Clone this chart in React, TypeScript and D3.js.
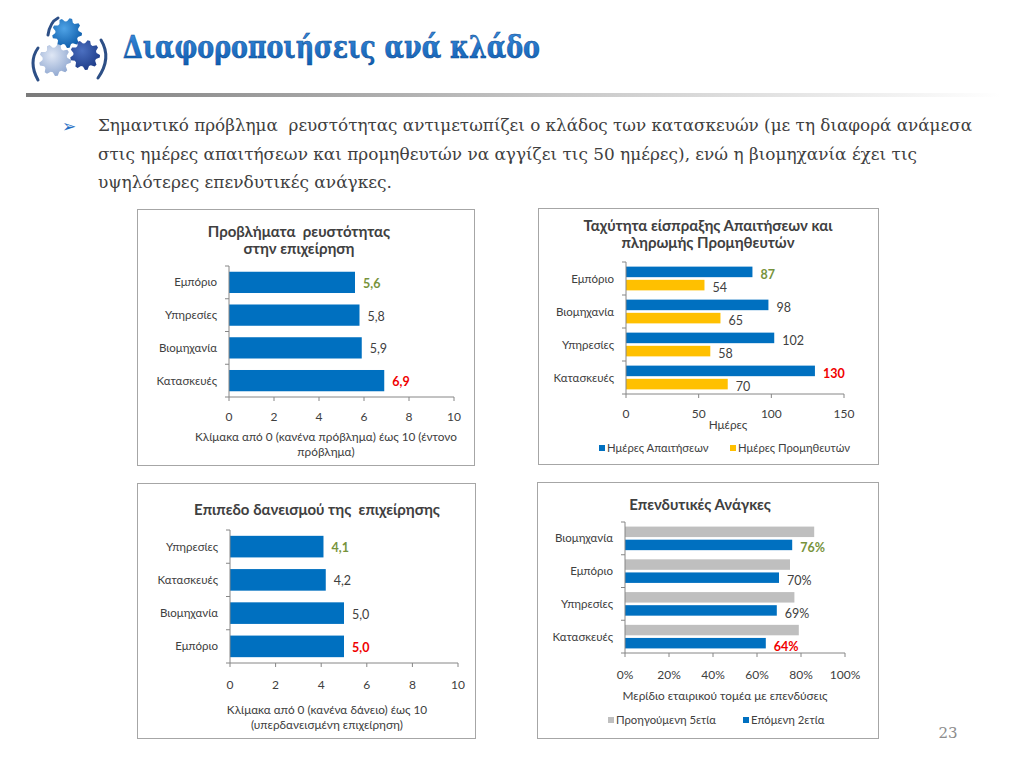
import * as React from 'react';
import * as d3 from 'd3';

// --- data ---
const liquidityCats = ['Εμπόριο', 'Υπηρεσίες', 'Βιομηχανία', 'Κατασκευές'];
const liquidityVals = [5.6, 5.8, 5.9, 6.9];

const daysCats = ['Εμπόριο', 'Βιομηχανία', 'Υπηρεσίες', 'Κατασκευές'];
const daysReceivables = [87, 98, 102, 130];
const daysPayables = [54, 65, 58, 70];

const loanCats = ['Υπηρεσίες', 'Κατασκευές', 'Βιομηχανία', 'Εμπόριο'];
const loanVals = [4.1, 4.2, 5.0, 5.0];

const investCats = ['Βιομηχανία', 'Εμπόριο', 'Υπηρεσίες', 'Κατασκευές'];
const investPrev5y = [0.86, 0.75, 0.77, 0.79];
const investNext2y = [0.76, 0.70, 0.69, 0.64];

const scaleTicks = [0, 2, 4, 6, 8, 10];
const dayTicks = [0, 50, 100, 150];
const pctTicks = [0, 0.2, 0.4, 0.6, 0.8, 1];

const bulletLines = [
  'Σημαντικό πρόβλημα  ρευστότητας αντιμετωπίζει ο κλάδος των κατασκευών (με τη διαφορά ανάμεσα',
  'στις ημέρες απαιτήσεων και προμηθευτών να αγγίζει τις 50 ημέρες), ενώ η βιομηχανία έχει τις',
  'υψηλότερες επενδυτικές ανάγκες.',
];

const BLUE = '#0070C0';
const YELLOW = '#FFC000';
const GRAY = '#BFBFBF';
const GREEN = '#77933C';
const RED = '#F00000';
const TEXT = '#404040';
const AXIS = '#868686';
const FONT = 'Lato, "Noto Sans", sans-serif';

const commaFmt = (v: number) => d3.format('.1f')(v).replace('.', ',');
const intFmt = d3.format('d');
const pctFmt = d3.format('.0%');

type SeriesDef = {
  values: number[];
  color: string;
  labels: boolean;
  highlight: boolean;
  name?: string;
};

type ChartProps = {
  box: { x: number; y: number; w: number; h: number };
  plot: { x0: number; x1: number; y0: number; y1: number };
  cats: string[];
  series: SeriesDef[];
  domain: [number, number];
  ticks: number[];
  tickFmt: (v: number) => string;
  valFmt: (v: number) => string;
  title: string[];
  titleX: number;
  titleY: number;
  tickY: number;
  axisLabel: string[];
  axisLabelX: number;
  axisLabelY: number;
  barFrac: number;
  legend?: { y: number; xs: number[] };
};

function HBarChart(p: ChartProps) {
  const x = d3.scaleLinear().domain(p.domain).range([p.plot.x0, p.plot.x1]);
  const y = d3.scaleBand<string>().domain(p.cats).range([p.plot.y0, p.plot.y1]).paddingInner(0);
  const inner = d3
    .scaleBand<number>()
    .domain(p.series.map((_, i) => i))
    .range([0, y.bandwidth()])
    .paddingInner(p.series.length > 1 ? 0.2 : 0)
    .paddingOuter(p.series.length > 1 ? 0.35 : (1 - p.barFrac) / 2);
  const n = p.cats.length;
  const boundaries = d3.range(n + 1).map((i) => p.plot.y0 + i * y.step());

  return (
    <g>
      <rect x={p.box.x} y={p.box.y} width={p.box.w} height={p.box.h} fill="#fff" stroke="#a6a6a6" strokeWidth={1} />
      {p.title.map((t, i) => (
        <text key={i} x={p.titleX} y={p.titleY + i * 17} textAnchor="middle" dy="0.35em"
          fontSize={15} fontWeight={700} fill={TEXT} style={{ whiteSpace: 'pre' }}>{t}</text>
      ))}
      {p.series.map((s, si) =>
        s.values.map((v, ci) => {
          const by = (y(p.cats[ci]) as number) + (inner(si) as number);
          const bh = inner.bandwidth();
          return (
            <rect key={`${si}-${ci}`} x={x(0)} y={by} width={x(v) - x(0)} height={bh} fill={s.color} />
          );
        })
      )}
      {p.series.map((s, si) =>
        s.labels
          ? s.values.map((v, ci) => {
              const by = (y(p.cats[ci]) as number) + (inner(si) as number) + inner.bandwidth() / 2;
              const hi = s.highlight && (ci === 0 || ci === n - 1);
              const col = !hi ? TEXT : ci === 0 ? GREEN : RED;
              return (
                <text key={`l${si}-${ci}`} x={x(v) + 8} y={by + (p.series.length > 1 ? 3 : 1)} dy="0.35em"
                  fontSize={12.5} fontWeight={hi ? 700 : 400} fill={col}>{p.valFmt(v)}</text>
              );
            })
          : null
      )}
      {/* y axis */}
      <line x1={p.plot.x0} x2={p.plot.x0} y1={p.plot.y0} y2={p.plot.y1} stroke={AXIS} />
      {boundaries.map((b, i) => (
        <line key={`yt${i}`} x1={p.plot.x0 - 4} x2={p.plot.x0} y1={b} y2={b} stroke={AXIS} />
      ))}
      {p.cats.map((c) => (
        <text key={c} x={p.plot.x0 - 12} y={(y(c) as number) + y.bandwidth() / 2} dy="0.35em" textAnchor="end"
          fontSize={11.5} fill={TEXT}>{c}</text>
      ))}
      {/* x axis */}
      <line x1={p.plot.x0} x2={p.plot.x1} y1={p.plot.y1} y2={p.plot.y1} stroke={AXIS} />
      {p.ticks.map((t) => (
        <g key={`xt${t}`}>
          <line x1={x(t)} x2={x(t)} y1={p.plot.y1} y2={p.plot.y1 + 4} stroke={AXIS} />
          <text x={x(t)} y={p.tickY} dy="0.35em" textAnchor="middle" fontSize={12} fill={TEXT}>{p.tickFmt(t)}</text>
        </g>
      ))}
      {p.axisLabel.map((t, i) => (
        <text key={`al${i}`} x={p.axisLabelX} y={p.axisLabelY + i * 15} dy="0.35em" textAnchor="middle"
          fontSize={11.8} fill={TEXT}>{t}</text>
      ))}
      {p.legend
        ? p.series.map((s, si) => (
            <g key={`lg${si}`}>
              <rect x={p.legend!.xs[si]} y={p.legend!.y - 3} width={6} height={6} fill={s.color} />
              <text x={p.legend!.xs[si] + 8} y={p.legend!.y} dy="0.35em" fontSize={11.3} fill={TEXT}>{s.name}</text>
            </g>
          ))
        : null}
    </g>
  );
}

function gearPath(cx: number, cy: number, r: number, teeth: number) {
  const pts: [number, number][] = [];
  const steps = teeth * 4;
  for (let i = 0; i < steps; i++) {
    const a = (i / steps) * Math.PI * 2;
    const rr = i % 4 < 2 ? r : r * 0.78;
    pts.push([cx + Math.cos(a) * rr, cy + Math.sin(a) * rr]);
  }
  return d3.line().curve(d3.curveLinearClosed)(pts) as string;
}

function Logo() {
  return (
    <g>
      <defs>
        <radialGradient id="gBlue" cx="40%" cy="35%" r="70%">
          <stop offset="0%" stopColor="#4fa3e6" />
          <stop offset="100%" stopColor="#0b5aa8" />
        </radialGradient>
        <radialGradient id="gLight" cx="40%" cy="35%" r="70%">
          <stop offset="0%" stopColor="#dfe7f5" />
          <stop offset="100%" stopColor="#8ea6cf" />
        </radialGradient>
        <radialGradient id="gDark" cx="40%" cy="35%" r="70%">
          <stop offset="0%" stopColor="#4b6fc0" />
          <stop offset="100%" stopColor="#1c3a87" />
        </radialGradient>
      </defs>
      <path d="M38,48 Q28,62 38,80" fill="none" stroke="#2d4f86" strokeWidth={3} strokeLinecap="round" />
      <path d="M48,35 Q50,22 58,18" fill="none" stroke="#2d4f86" strokeWidth={3} strokeLinecap="round" />
      <path d="M101,40 Q112,58 98,78" fill="none" stroke="#2d4f86" strokeWidth={3} strokeLinecap="round" />
      <path d={gearPath(67, 33, 15, 9)} fill="url(#gBlue)" />
      <path d={gearPath(55, 60, 16, 9)} fill="url(#gLight)" />
      <path d={gearPath(85, 55, 15, 9)} fill="url(#gDark)" />
    </g>
  );
}

export default function App() {
  return (
    <div style={{ position: 'absolute', left: 0, top: 0 }}>
      <svg width={1024} height={768} style={{ display: 'block', fontFamily: FONT }}>
        <defs>
          <linearGradient id="sep" x1="0" x2="1" y1="0" y2="0">
            <stop offset="0%" stopColor="#7a7a7a" />
            <stop offset="55%" stopColor="#c8c8c8" />
            <stop offset="100%" stopColor="#ffffff" />
          </linearGradient>
          <linearGradient id="titleFill" x1="0" x2="0" y1="0" y2="1">
            <stop offset="0%" stopColor="#3d8fe0" />
            <stop offset="100%" stopColor="#0d5cb0" />
          </linearGradient>
        </defs>
        <rect width={1024} height={768} fill="#fff" />
        <Logo />
        <text x={123} y={58} fontFamily='"DejaVu Serif", serif' fontWeight={700} fontSize={32}
          textLength={417} lengthAdjust="spacingAndGlyphs" fill="url(#titleFill)" stroke="#0b4a94" strokeWidth={0.6}>
          Διαφοροποιήσεις ανά κλάδο
        </text>
        <rect x={26} y={93} width={975} height={4} fill="url(#sep)" />

        <text x={62} y={132} fontSize={17} fill="#1f6fc4" fontFamily='"DejaVu Sans", sans-serif'>➢</text>
        {bulletLines.map((t, i) => (
          <text key={i} x={98} y={131 + i * 28.5} fontSize={17.5} fill="#404040"
            fontFamily='"DejaVu Serif Condensed", "DejaVu Serif", serif'
            textLength={[874, 819, 294][i]} lengthAdjust="spacingAndGlyphs" style={{ whiteSpace: 'pre' }}>{t}</text>
        ))}

        <HBarChart
          box={{ x: 137.5, y: 209.5, w: 337, h: 256 }}
          plot={{ x0: 229, x1: 454, y0: 266, y1: 397 }}
          cats={liquidityCats}
          series={[{ values: liquidityVals, color: BLUE, labels: true, highlight: true }]}
          domain={[0, 10]}
          ticks={scaleTicks}
          tickFmt={intFmt}
          valFmt={commaFmt}
          title={['Προβλήματα  ρευστότητας', 'στην επιχείρηση']}
          titleX={299}
          titleY={232}
          tickY={417}
          axisLabel={['Κλίμακα από 0 (κανένα πρόβλημα) έως 10 (έντονο', 'πρόβλημα)']}
          axisLabelX={326}
          axisLabelY={437}
          barFrac={0.46}
        />
        <HBarChart
          box={{ x: 538.5, y: 208.5, w: 340, h: 256 }}
          plot={{ x0: 626, x1: 844, y0: 262, y1: 394 }}
          cats={daysCats}
          series={[
            { values: daysReceivables, color: BLUE, labels: true, highlight: true, name: 'Ημέρες Απαιτήσεων' },
            { values: daysPayables, color: YELLOW, labels: true, highlight: false, name: 'Ημέρες Προμηθευτών' },
          ]}
          domain={[0, 150]}
          ticks={dayTicks}
          tickFmt={intFmt}
          valFmt={intFmt}
          title={['Ταχύτητα είσπραξης Απαιτήσεων και', 'πληρωμής Προμηθευτών']}
          titleX={708}
          titleY={226}
          tickY={414}
          axisLabel={['Ημέρες']}
          axisLabelX={728}
          axisLabelY={425}
          barFrac={0.7}
          legend={{ y: 448, xs: [599, 730] }}
        />
        <HBarChart
          box={{ x: 137.5, y: 483.5, w: 338, h: 255 }}
          plot={{ x0: 230, x1: 458, y0: 530, y1: 663 }}
          cats={loanCats}
          series={[{ values: loanVals, color: BLUE, labels: true, highlight: true }]}
          domain={[0, 10]}
          ticks={scaleTicks}
          tickFmt={intFmt}
          valFmt={commaFmt}
          title={['Επιπεδο δανεισμού της  επιχείρησης']}
          titleX={317}
          titleY={510}
          tickY={685}
          axisLabel={['Κλίμακα από 0 (κανένα δάνειο) έως 10', '(υπερδανεισμένη επιχείρηση)']}
          axisLabelX={327}
          axisLabelY={710}
          barFrac={0.46}
        />
        <HBarChart
          box={{ x: 537.5, y: 482.5, w: 341, h: 256 }}
          plot={{ x0: 625, x1: 845, y0: 522, y1: 653 }}
          cats={investCats}
          series={[
            { values: investPrev5y, color: GRAY, labels: false, highlight: false, name: 'Προηγούμενη 5ετία' },
            { values: investNext2y, color: BLUE, labels: true, highlight: true, name: 'Επόμενη 2ετία' },
          ]}
          domain={[0, 1]}
          ticks={pctTicks}
          tickFmt={pctFmt}
          valFmt={pctFmt}
          title={['Επενδυτικές Ανάγκες']}
          titleX={700}
          titleY={505}
          tickY={675}
          axisLabel={['Μερίδιο εταιρικού τομέα με επενδύσεις']}
          axisLabelX={725}
          axisLabelY={696}
          barFrac={0.7}
          legend={{ y: 720, xs: [608, 743] }}
        />

        <text x={948} y={738} fontSize={15} fill="#8c8c8c" textAnchor="middle" fontFamily='"DejaVu Serif", serif'>23</text>
      </svg>
    </div>
  );
}
